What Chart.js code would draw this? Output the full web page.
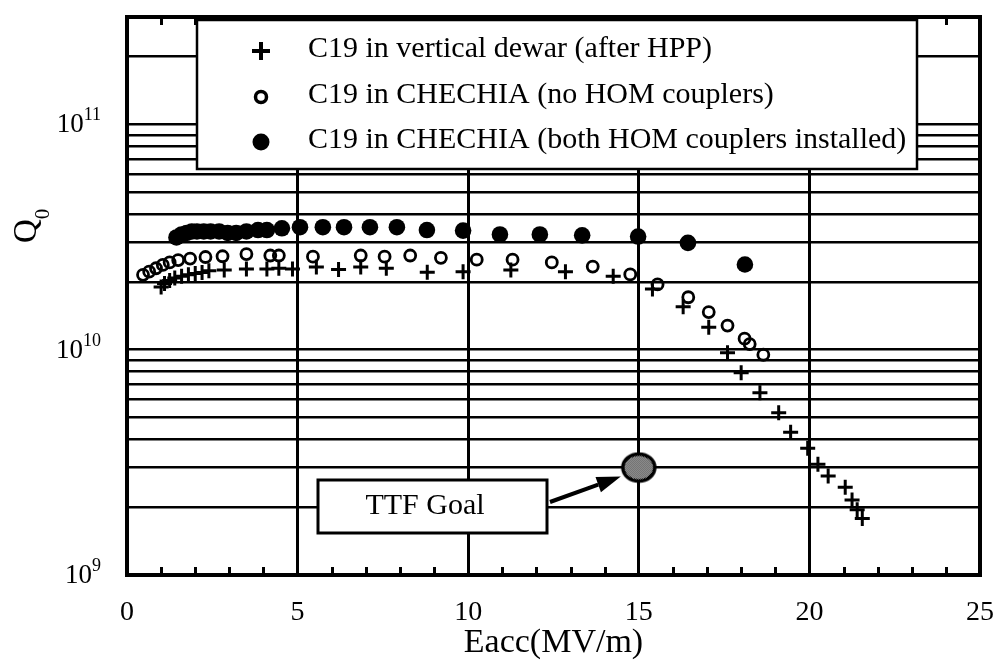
<!DOCTYPE html>
<html><head><meta charset="utf-8">
<script src="https://cdn.jsdelivr.net/npm/chart.js@4.4.0/dist/chart.umd.min.js"></script>
<style>html,body{margin:0;padding:0;background:#fff;overflow:hidden}#wrap{width:1001px;height:664px}</style>
</head><body><div id="wrap"><canvas id="c" width="1001" height="664"></canvas></div>
<script>
const FONT = "'Liberation Serif','Times New Roman',Times,serif";

const seriesLabels = [
  'C19 in vertical dewar (after HPP)',
  'C19 in CHECHIA (no HOM couplers)',
  'C19 in CHECHIA (both HOM couplers installed)'
];

// C19 in vertical dewar (after HPP)
const dewarE = [1.0,1.1,1.25,1.4,1.6,1.8,2.0,2.2,2.4,2.85,3.5,4.1,4.45,4.85,5.55,6.2,6.85,7.6,8.8,9.85,11.25,12.85,14.25,15.4,16.3,17.05,17.6,18.0,18.55,19.1,19.45,19.95,20.25,20.55,21.05,21.25,21.4,21.55];
const dewarQ = [1.9e10,1.97e10,2.03e10,2.08e10,2.12e10,2.15e10,2.18e10,2.2e10,2.24e10,2.26e10,2.28e10,2.28e10,2.3e10,2.28e10,2.33e10,2.27e10,2.33e10,2.3e10,2.21e10,2.22e10,2.26e10,2.22e10,2.12e10,1.86e10,1.55e10,1.26e10,9.7e9,7.9e9,6.45e9,5.25e9,4.3e9,3.65e9,3.1e9,2.75e9,2.45e9,2.15e9,1.95e9,1.78e9];

// C19 in CHECHIA (no HOM couplers)
const chechiaE = [0.47,0.65,0.85,1.05,1.25,1.5,1.85,2.3,2.8,3.5,4.2,4.45,5.45,6.85,7.55,8.3,9.2,10.25,11.3,12.45,13.65,14.75,15.55,16.45,17.05,17.6,18.1,18.25,18.65];
const chechiaQ = [2.15e10,2.22e10,2.3e10,2.38e10,2.44e10,2.5e10,2.54e10,2.58e10,2.6e10,2.66e10,2.62e10,2.62e10,2.59e10,2.62e10,2.59e10,2.62e10,2.56e10,2.51e10,2.51e10,2.44e10,2.34e10,2.16e10,1.95e10,1.71e10,1.47e10,1.28e10,1.12e10,1.06e10,9.5e9];

// C19 in CHECHIA (both HOM couplers installed)
const homE = [1.45,1.6,1.75,1.9,2.05,2.25,2.45,2.7,2.95,3.2,3.5,3.84,4.1,4.54,5.07,5.74,6.36,7.12,7.91,8.79,9.85,10.93,12.1,13.34,14.98,16.44,18.11];
const homQ = [3.15e10,3.25e10,3.3e10,3.35e10,3.35e10,3.35e10,3.35e10,3.35e10,3.3e10,3.3e10,3.35e10,3.4e10,3.4e10,3.46e10,3.5e10,3.5e10,3.5e10,3.5e10,3.5e10,3.4e10,3.38e10,3.25e10,3.25e10,3.22e10,3.18e10,2.98e10,2.39e10];

// TTF goal
const goalLabel = 'TTF Goal';
const goalE = [15];
const goalQ = [3e9];

// axes
const xMin = 0, xMax = 25;
const xLabelStep = 5;
const xTitle = 'Eacc(MV/m)';
const yTitle = 'Q';
const yTitleSub = '0';
const yMin = 1e9, yMax = 3e11;
const yGridValues = [1e9,2e9,3e9,4e9,5e9,6e9,7e9,8e9,9e9,1e10,2e10,3e10,4e10,5e10,6e10,7e10,8e10,9e10,1e11,2e11,3e11];
const yLabelValues = [1e9,1e10,1e11];
const yTickBase = '10';
const yTickExps = ['9','10','11'];

function pts(xs, ys){ return xs.map((x,i)=>({x:x, y:ys[i]})); }

// TTF goal marker image (stippled ellipse)
function makeGoalImage(){
  const pat = document.createElement('canvas'); pat.width = 2; pat.height = 2;
  const pc = pat.getContext('2d');
  pc.fillStyle = '#fff'; pc.fillRect(0,0,2,2);
  pc.fillStyle = '#000'; pc.fillRect(0,0,1,1); pc.fillRect(1,1,1,1);
  const c = document.createElement('canvas'); c.width = 38; c.height = 32;
  const g = c.getContext('2d');
  g.beginPath(); g.ellipse(19,16,16,13.5,0,0,Math.PI*2);
  g.fillStyle = g.createPattern(pat,'repeat'); g.fill();
  g.lineWidth = 3.5; g.strokeStyle = '#000'; g.stroke();
  return c;
}

const overlay = {
  id: 'overlay',
  afterDraw(chart){
    const ctx = chart.ctx, a = chart.chartArea;
    const xs = chart.scales.x, ys = chart.scales.y;
    ctx.save();
    // minor ticks (inward) top & bottom
    ctx.strokeStyle = '#000'; ctx.lineWidth = 3;
    for (let v = xMin + 1; v < xMax; v++) {
      if (v % xLabelStep === 0) continue;
      const px = Math.round(xs.getPixelForValue(v)) + 0.5;
      ctx.beginPath();
      ctx.moveTo(px, a.bottom); ctx.lineTo(px, a.bottom - 8);
      ctx.moveTo(px, a.top); ctx.lineTo(px, a.top + 8);
      ctx.stroke();
    }
    // frame
    ctx.lineWidth = 4;
    ctx.strokeRect(a.left, a.top, a.right - a.left, a.bottom - a.top);

    // y tick labels 10^n
    ctx.fillStyle = '#000'; ctx.textAlign = 'left'; ctx.textBaseline = 'alphabetic';
    yLabelValues.forEach((v, i) => {
      const py = ys.getPixelForValue(v);
      ctx.font = '18px ' + FONT;
      const we = ctx.measureText(yTickExps[i]).width;
      ctx.font = '27px ' + FONT;
      const wb = ctx.measureText(yTickBase).width;
      const right = 101;
      ctx.fillText(yTickBase, right - we - wb, py + 8);
      ctx.font = '18px ' + FONT;
      ctx.fillText(yTickExps[i], right - we, py - 4);
    });

    // legend box
    const L = {left:197, top:20, right:917, bottom:169};
    ctx.fillStyle = '#fff';
    ctx.fillRect(L.left, L.top, L.right-L.left, L.bottom-L.top);
    ctx.lineWidth = 2.5; ctx.strokeStyle = '#000';
    ctx.strokeRect(L.left, L.top, L.right-L.left, L.bottom-L.top);
    const rowsY = [51, 97, 142];
    const mx = 261, tx = 308;
    ctx.lineWidth = 4;
    ctx.beginPath();
    ctx.moveTo(mx-9, rowsY[0]); ctx.lineTo(mx+9, rowsY[0]);
    ctx.moveTo(mx, rowsY[0]-9); ctx.lineTo(mx, rowsY[0]+9);
    ctx.stroke();
    ctx.lineWidth = 3.5;
    ctx.beginPath(); ctx.arc(mx, rowsY[1], 5.5, 0, Math.PI*2); ctx.stroke();
    ctx.fillStyle = '#000';
    ctx.beginPath(); ctx.arc(mx, rowsY[2], 8.5, 0, Math.PI*2); ctx.fill();
    ctx.font = '30px ' + FONT; ctx.textBaseline = 'middle'; ctx.textAlign = 'left';
    seriesLabels.forEach((t,i)=>{ ctx.fillText(t, tx, rowsY[i] - 2); });

    // TTF goal box + arrow
    const gx = xs.getPixelForValue(goalE[0]);
    const gy = ys.getPixelForValue(goalQ[0]);
    const B = {left:318, top:480, right:547, bottom:533};
    ctx.fillStyle = '#fff';
    ctx.fillRect(B.left, B.top, B.right-B.left, B.bottom-B.top);
    ctx.lineWidth = 3; ctx.strokeStyle = '#000';
    ctx.strokeRect(B.left, B.top, B.right-B.left, B.bottom-B.top);
    ctx.fillStyle = '#000'; ctx.font = '30px ' + FONT; ctx.textAlign = 'center';
    ctx.fillText(goalLabel, 425, 506);
    const sx = B.right + 3, sy = 502;
    const ex = gx - 18, ey = gy + 9;
    const ang = Math.atan2(ey - sy, ex - sx);
    const hl = 24, hw = 8;
    const bx = ex - Math.cos(ang)*hl, by = ey - Math.sin(ang)*hl;
    ctx.lineWidth = 4;
    ctx.beginPath(); ctx.moveTo(sx, sy); ctx.lineTo(bx, by); ctx.stroke();
    ctx.beginPath();
    ctx.moveTo(ex, ey);
    ctx.lineTo(bx + Math.sin(ang)*hw, by - Math.cos(ang)*hw);
    ctx.lineTo(bx - Math.sin(ang)*hw, by + Math.cos(ang)*hw);
    ctx.closePath(); ctx.fill();

    // Y title Q0 (rotated)
    ctx.translate(27, 231); ctx.rotate(-Math.PI/2);
    ctx.textAlign = 'center'; ctx.textBaseline = 'middle';
    ctx.font = '33px ' + FONT;
    ctx.fillText(yTitle, 0, 0);
    ctx.font = '21px ' + FONT;
    ctx.fillText(yTitleSub, 17, 16);
    ctx.restore();
  }
};

new Chart(document.getElementById('c'), {
  type: 'scatter',
  data: {
    datasets: [
      { label: seriesLabels[0], data: pts(dewarE, dewarQ), pointStyle: 'cross', pointRadius: 7.5,
        borderColor: '#000', backgroundColor: '#000', pointBorderWidth: 3, borderWidth: 3 },
      { label: seriesLabels[1], data: pts(chechiaE, chechiaQ), pointStyle: 'circle', pointRadius: 5.5,
        borderColor: '#000', backgroundColor: 'rgba(255,255,255,0)', pointBorderWidth: 2.8, borderWidth: 2.8 },
      { label: seriesLabels[2], data: pts(homE, homQ), pointStyle: 'circle', pointRadius: 8.3,
        borderColor: '#000', backgroundColor: '#000', pointBorderWidth: 0, borderWidth: 0 },
      { label: goalLabel, data: pts(goalE, goalQ), pointStyle: makeGoalImage(), pointRadius: 16,
        borderColor: '#000', backgroundColor: '#000' }
    ]
  },
  options: {
    responsive: false, animation: false, devicePixelRatio: 1,
    layout: { padding: { top: 7, right: 21, left: 0, bottom: 0 } },
    plugins: { legend: { display: false }, tooltip: { enabled: false } },
    scales: {
      x: {
        type: 'linear', min: xMin, max: xMax, position: 'bottom',
        afterFit: s => { s.height = 89; s.paddingLeft = 0; s.paddingRight = 0; },
        ticks: { stepSize: 1, autoSkip: false, maxRotation: 0, padding: 21, color: '#000',
          font: { family: FONT, size: 28 },
          callback: v => (v % xLabelStep === 0 ? String(v) : '') },
        grid: { drawTicks: false, lineWidth: 3,
          color: c => (c.tick && c.tick.value % xLabelStep === 0) ? '#000' : 'rgba(0,0,0,0)' },
        border: { display: false },
        title: { display: true, text: xTitle, color: '#000', font: { family: FONT, size: 34 },
          padding: { top: 0, bottom: 1 } }
      },
      y: {
        type: 'logarithmic', min: yMin, max: yMax,
        afterFit: s => { s.width = 127; s.paddingTop = 0; s.paddingBottom = 0; },
        afterBuildTicks: s => { s.ticks = yGridValues.map(v => ({ value: v })); },
        ticks: { display: false, autoSkip: false },
        grid: { drawTicks: false, lineWidth: 2.5, color: '#000' },
        border: { display: false }
      }
    }
  },
  plugins: [overlay]
});
</script>
</body></html>
